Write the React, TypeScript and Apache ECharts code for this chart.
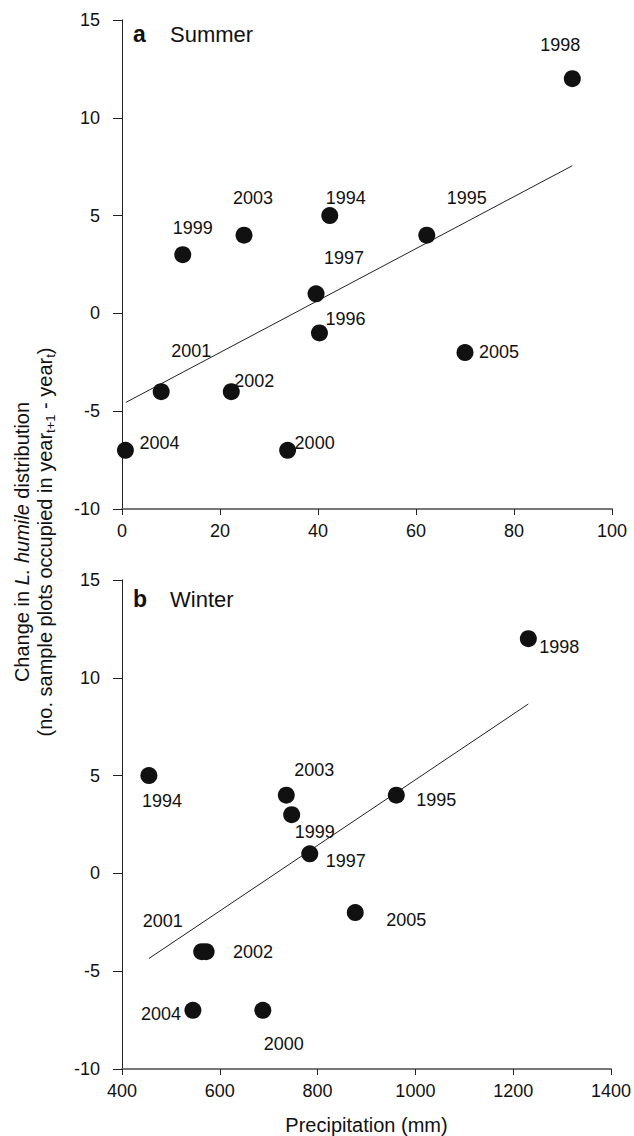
import React, { useEffect, useRef } from 'react';
import * as echarts from 'echarts';

const years = ['1994', '1995', '1996', '1997', '1998', '1999', '2000', '2001', '2002', '2003', '2004', '2005'];
const changeValues = [5, 4, -1, 1, 12, 3, -7, -4, -4, 4, -7, -2];
const summerPrecip = [42.4, 62.2, 40.3, 39.6, 91.9, 12.4, 33.8, 8.0, 22.3, 24.9, 0.7, 70.0];
const winterPrecip: (number | null)[] = [455, 961, null, 784, 1231, 747, 688, 563, 572, 736, 545, 877];

const summerFit = [[0.8, -4.55], [91.9, 7.55]];
const winterFit = [[455, -4.35], [1231, 8.66]];

const summerTicksX = { min: 0, max: 100, interval: 20 };
const winterTicksX = { min: 400, max: 1400, interval: 200 };
const ticksY = { min: -10, max: 15, interval: 5 };

// label offsets (px) relative to each point
const summerLabelOffsets: number[][] = [
  [16, -18], [40, -37], [26, -14], [28, -36], [-12, -34], [10, -27],
  [27, -7], [30, -41], [23, -11], [9, -37], [34, -7], [34, -1],
];
const winterLabelOffsets: (number[] | null)[] = [
  [13, 25], [40, 5], null, [36, 7], [31, 8], [23, 17],
  [21, 34], [-39, -31], [47, 0], [28, -25], [-32, 4], [51, 7],
];

const FONT = '"Liberation Sans", Arial, Helvetica, sans-serif';
const INK = '#111';

function buildPoints(xs: (number | null)[], offsets: (number[] | null)[]) {
  const out: any[] = [];
  xs.forEach((x, i) => {
    if (x === null) return;
    out.push({
      value: [x, changeValues[i], years[i]],
      label: { offset: offsets[i] || [0, 0] },
    });
  });
  return out;
}

const plainNumber = (v: number) => String(v);

function xAxisCfg(gridIndex: number, ticks: any, name?: string) {
  return {
    type: 'value',
    gridIndex,
    min: ticks.min,
    max: ticks.max,
    interval: ticks.interval,
    name: name || '',
    nameLocation: 'middle',
    nameGap: 46,
    nameTextStyle: { fontFamily: FONT, fontSize: 20, color: INK },
    axisLine: { onZero: false, lineStyle: { color: '#777', width: 2 } },
    axisTick: { show: true, length: 6, lineStyle: { color: '#222', width: 1 } },
    axisLabel: { fontFamily: FONT, fontSize: 18, color: INK, margin: 13, formatter: plainNumber },
    splitLine: { show: false },
  };
}

function yAxisCfg(gridIndex: number) {
  return {
    type: 'value',
    gridIndex,
    min: ticksY.min,
    max: ticksY.max,
    interval: ticksY.interval,
    axisLine: { show: true, onZero: false, lineStyle: { color: '#222', width: 1 } },
    axisTick: { show: true, length: 9, lineStyle: { color: '#222', width: 1 } },
    axisLabel: { fontFamily: FONT, fontSize: 18, color: INK, margin: 22, formatter: plainNumber },
    splitLine: { show: false },
  };
}

const scatterLabel = {
  show: true,
  position: 'inside',
  formatter: (p: any) => p.value[2],
  fontFamily: FONT,
  fontSize: 18,
  color: INK,
};

export default function App() {
  const ref = useRef<HTMLDivElement>(null);
  useEffect(() => {
    if (!ref.current) return;
    const chart = echarts.init(ref.current, null, { renderer: 'svg' });
    chart.setOption({
      animation: false,
      backgroundColor: '#fff',
      grid: [
        { left: 122, top: 20, width: 490, height: 489 },
        { left: 122, top: 580, width: 490, height: 490 },
      ],
      xAxis: [xAxisCfg(0, summerTicksX), xAxisCfg(1, winterTicksX, 'Precipitation (mm)')],
      yAxis: [yAxisCfg(0), yAxisCfg(1)],
      series: [
        {
          type: 'line', xAxisIndex: 0, yAxisIndex: 0, data: summerFit,
          symbol: 'none', silent: true, lineStyle: { color: '#222', width: 1 }, z: 1,
        },
        {
          type: 'line', xAxisIndex: 1, yAxisIndex: 1, data: winterFit,
          symbol: 'none', silent: true, lineStyle: { color: '#222', width: 1 }, z: 1,
        },
        {
          type: 'scatter', xAxisIndex: 0, yAxisIndex: 0, symbolSize: 17,
          itemStyle: { color: INK, opacity: 1 }, label: scatterLabel,
          data: buildPoints(summerPrecip, summerLabelOffsets), z: 2,
        },
        {
          type: 'scatter', xAxisIndex: 1, yAxisIndex: 1, symbolSize: 17,
          itemStyle: { color: INK, opacity: 1 }, label: scatterLabel,
          data: buildPoints(winterPrecip, winterLabelOffsets), z: 2,
        },
      ],
      graphic: [
        {
          type: 'text', x: 133, y: 34,
          style: { text: 'a', font: `bold 23px ${FONT}`, fill: INK, verticalAlign: 'middle', align: 'left' },
        },
        {
          type: 'text', x: 170, y: 34,
          style: { text: 'Summer', font: `22px ${FONT}`, fill: INK, verticalAlign: 'middle', align: 'left' },
        },
        {
          type: 'text', x: 133, y: 599,
          style: { text: 'b', font: `bold 23px ${FONT}`, fill: INK, verticalAlign: 'middle', align: 'left' },
        },
        {
          type: 'text', x: 170, y: 599,
          style: { text: 'Winter', font: `22px ${FONT}`, fill: INK, verticalAlign: 'middle', align: 'left' },
        },
        {
          type: 'text', x: 33, y: 542, rotation: Math.PI / 2,
          style: {
            text: '{n|Change in }{i|L. humile}{n| distribution}\n{n|(no. sample plots occupied in year}{s|t+1}{n| - year}{s|t}{n|)}',
            align: 'center',
            verticalAlign: 'middle',
            fill: INK,
            rich: {
              n: { fontFamily: FONT, fontSize: 20, lineHeight: 23, fill: INK },
              i: { fontFamily: FONT, fontSize: 20, lineHeight: 23, fontStyle: 'italic', fill: INK },
              s: { fontFamily: FONT, fontSize: 13, lineHeight: 14, padding: [12, 0, 0, 0], fill: INK },
            },
          },
        },
      ],
    });
    return () => chart.dispose();
  }, []);
  return (
    <div
      ref={ref}
      style={{ position: 'fixed', left: 0, top: 0, width: 634, height: 1136, background: '#fff' }}
    />
  );
}
